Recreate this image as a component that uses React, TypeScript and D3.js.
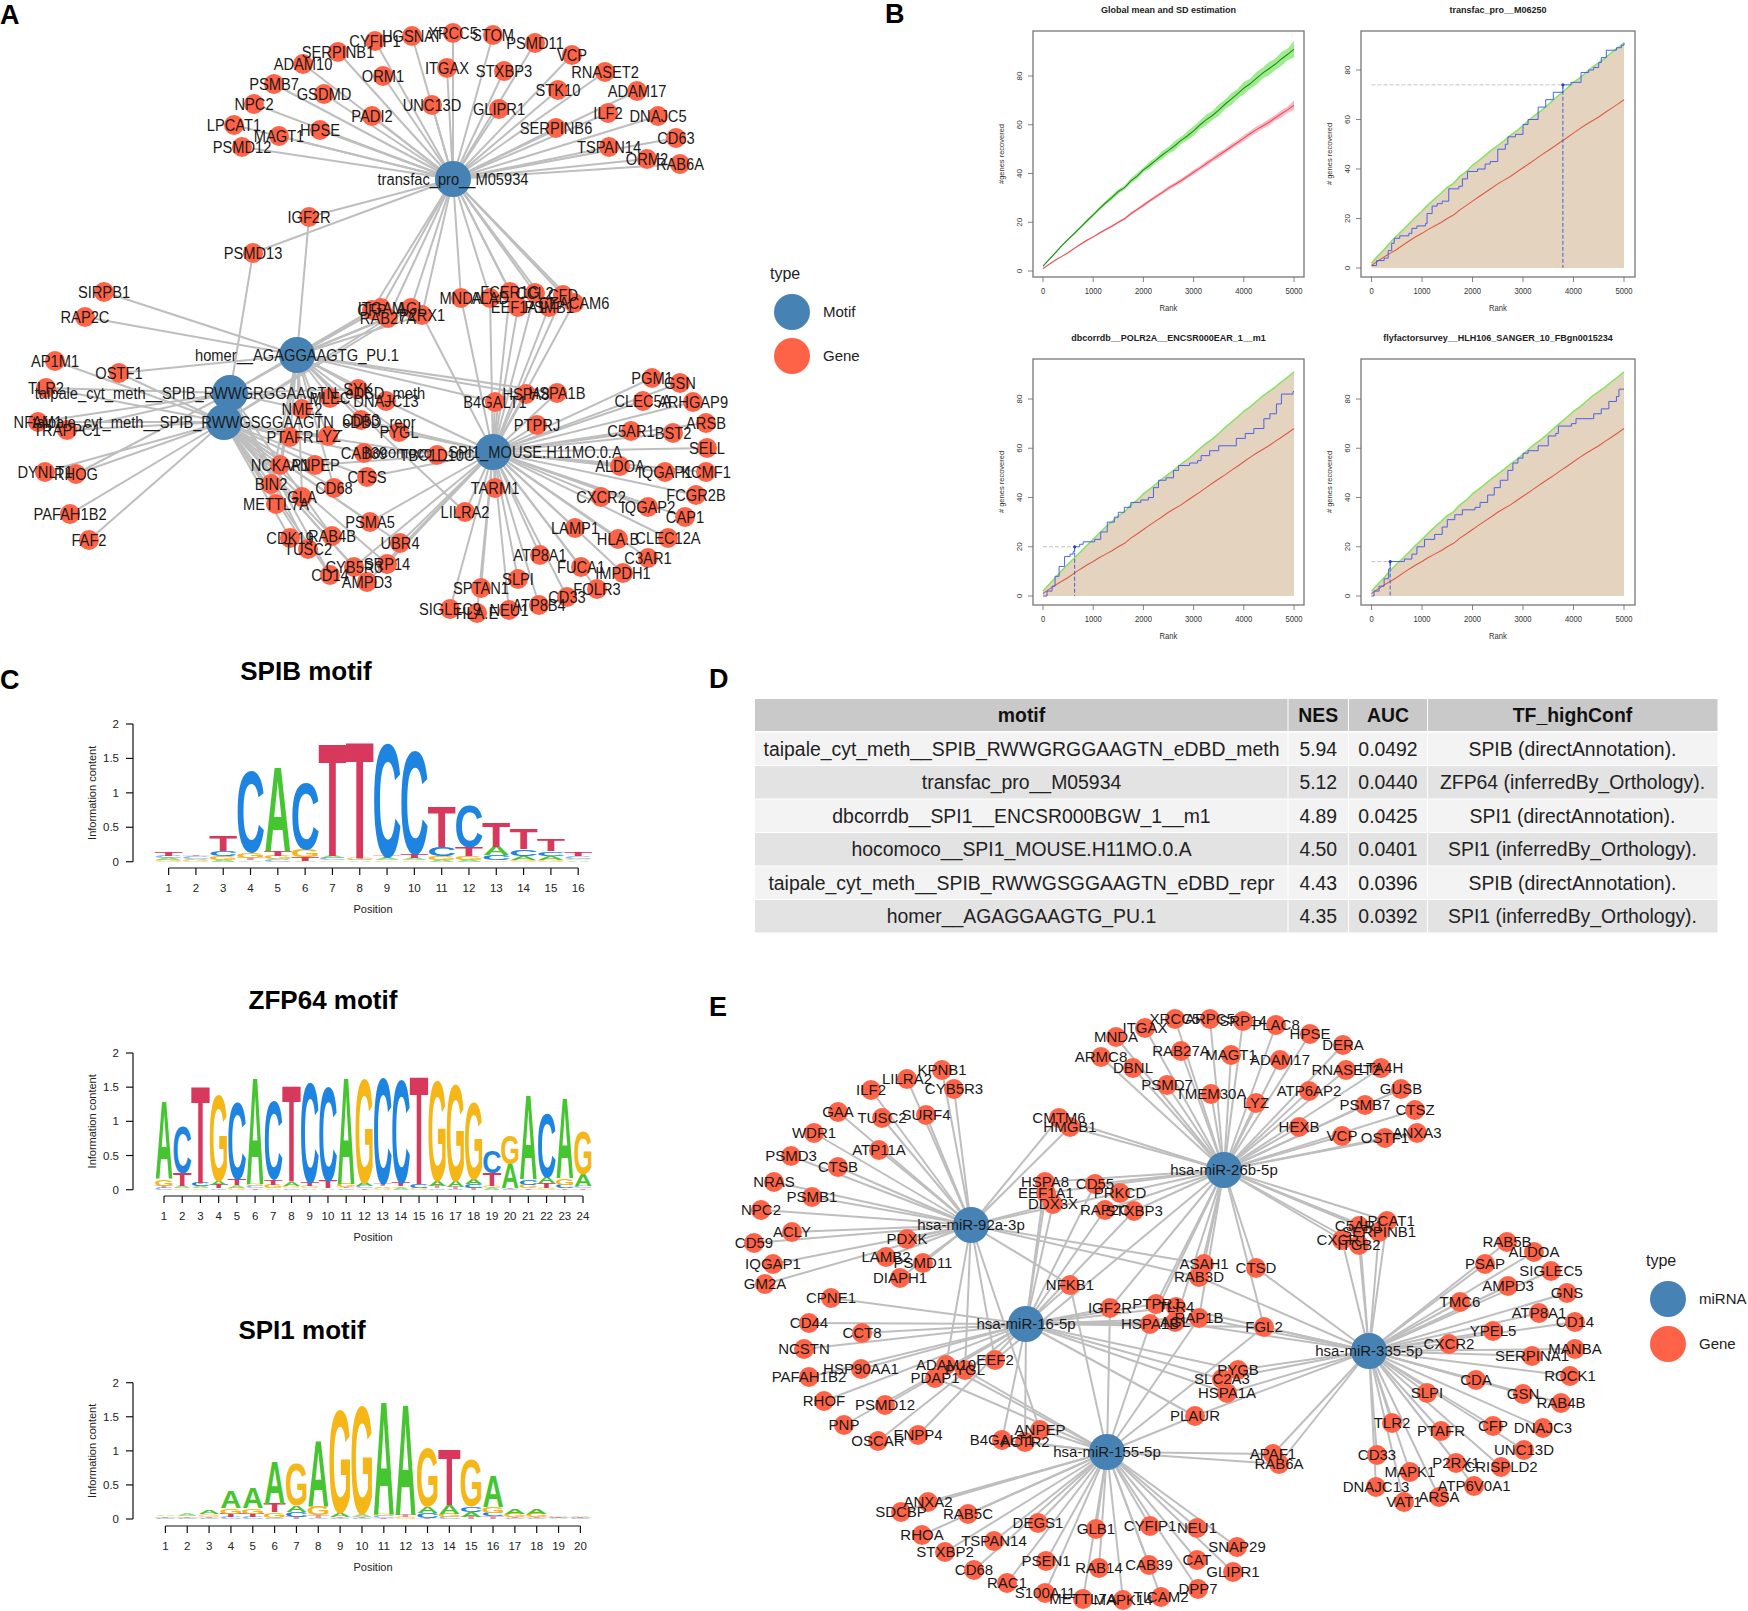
import React from 'react';
import * as d3 from 'd3';

// panel A network: [gene, x, y, hubs it links to]
const hubsA: [string, string, number, number][] = [
  ['t', 'transfac_pro__M05934', 453, 179],
  ['h', 'homer__AGAGGAAGTG_PU.1', 297, 355],
  ['m', 'taipale_cyt_meth__SPIB_RWWGRGGAAGTN_eDBD_meth', 230, 393],
  ['r', 'taipale_cyt_meth__SPIB_RWWGSGGAAGTN_eDBD_repr', 224, 422],
  ['o', 'hocomoco__SPI1_MOUSE.H11MO.0.A', 493, 452],
];
const genesATop: [string, number, number, string][] = [
  ['CYFIP1', 375, 41, 't'], ['HGSNAT', 412, 36, 't'], ['XRCC5', 453, 33, 't'], ['STOM', 493, 35, 't'],
  ['PSMD11', 535, 43, 't'], ['VCP', 572, 55, 't'], ['SERPINB1', 338, 52, 't'], ['ADAM10', 303, 64, 't'],
  ['ITGAX', 447, 68, 't'], ['STXBP3', 504, 71, 't'], ['ORM1', 383, 76, 't'], ['RNASET2', 605, 72, 't'],
  ['ADAM17', 637, 91, 't'], ['PSMB7', 274, 84, 't'], ['GSDMD', 324, 94, 't'], ['STK10', 558, 90, 't'],
  ['NPC2', 254, 104, 't'], ['UNC13D', 432, 105, 't'], ['GLIPR1', 499, 109, 't'], ['PADI2', 372, 116, 't'],
  ['ILF2', 608, 113, 't'], ['DNAJC5', 658, 116, 't'], ['LPCAT1', 234, 125, 't'], ['SERPINB6', 556, 128, 't'],
  ['HPSE', 320, 130, 't'], ['MAGT1', 279, 136, 't'], ['CD63', 676, 138, 't'], ['PSMD12', 242, 147, 't'],
  ['TSPAN14', 609, 147, 't'], ['ORM2', 647, 159, 't'], ['RAB6A', 680, 164, 't'], ['IGF2R', 309, 217, 'th'],
  ['PSMD13', 253, 253, 'tm'],
];
const genesAMiddle: [string, number, number, string][] = [
  ['SIRPB1', 104, 292, 'h'], ['RAP2C', 85, 317, 'h'], ['MNDA', 461, 298, 'to'], ['ALAD', 490, 298, 'to'],
  ['FCER1G', 510, 292, 'to'], ['CCL2', 535, 293, 'to'], ['CFD', 563, 295, 'to'], ['EEF1A1', 518, 307, 'to'],
  ['PSMB1', 549, 307, 'to'], ['CEACAM6', 574, 303, 'to'], ['CFP', 372, 310, 'thm'], ['ITGAM', 381, 308, 'thm'],
  ['AGL', 411, 308, 'thr'], ['RAB27A', 388, 318, 'thr'], ['P2RX1', 422, 315, 'tho'], ['AP1M1', 55, 361, 'r'],
  ['OSTF1', 119, 373, 'hr'], ['TLR2', 46, 388, 'mr'], ['NFAM1', 38, 422, 'mr'], ['TRAPPC1', 67, 430, 'mr'],
  ['DYNLT1', 45, 472, 'r'], ['RHOG', 76, 474, 'mr'], ['PAFAH1B2', 70, 514, 'r'], ['FAF2', 89, 540, 'r'],
  ['SYK', 358, 389, 'hm'], ['MLEC', 330, 398, 'hm'], ['DNAJC13', 386, 401, 'ho'], ['NME2', 302, 409, 'hm'],
  ['CD53', 361, 420, 'ho'], ['PYGL', 399, 432, 'ho'], ['PTAFR', 290, 437, 'hr'], ['LYZ', 328, 436, 'hr'],
  ['CAB39', 364, 453, 'ro'], ['TBC1D10C', 437, 455, 'ro'], ['NCKAP1', 280, 465, 'hr'], ['ANPEP', 315, 465, 'ro'],
  ['CTSS', 367, 477, 'ro'], ['BIN2', 271, 484, 'hr'], ['CD68', 334, 488, 'hr'], ['GLA', 302, 497, 'hr'],
  ['METTL7A', 276, 504, 'hr'], ['PSMA5', 370, 522, 'ro'], ['CDK19', 290, 538, 'r'], ['RAB4B', 332, 536, 'mr'],
  ['TUSC2', 308, 549, 'mr'], ['UBR4', 400, 543, 'ro'], ['CYB5R3', 354, 567, 'ro'], ['SRP14', 387, 564, 'ro'],
  ['CD14', 330, 575, 'mr'], ['AMPD3', 367, 582, 'ro'],
];
const genesARight: [string, number, number, string][] = [
  ['TARM1', 495, 488, 'o'], ['LILRA2', 465, 512, 'ho'], ['B4GALT1', 495, 402, 'ho'], ['HSPA8', 526, 394, 'ho'],
  ['HSPA1B', 557, 393, 'ho'], ['PTPRJ', 537, 425, 'o'], ['PGM1', 652, 378, 'o'], ['GSN', 680, 383, 'o'],
  ['CLEC5A', 643, 401, 'o'], ['ARHGAP9', 693, 402, 'o'], ['ARSB', 706, 423, 'o'], ['C5AR1', 631, 431, 'o'],
  ['BST2', 673, 433, 'o'], ['SELL', 707, 448, 'o'], ['ALDOA', 620, 466, 'o'], ['IQGAP1', 665, 472, 'o'],
  ['KCMF1', 706, 472, 'o'], ['FCGR2B', 696, 495, 'o'], ['CXCR2', 601, 497, 'o'], ['IQGAP2', 648, 507, 'o'],
  ['CAP1', 685, 517, 'o'], ['LAMP1', 575, 528, 'o'], ['HLA.B', 618, 539, 'o'], ['CLEC12A', 668, 538, 'o'],
  ['C3AR1', 648, 558, 'o'], ['ATP8A1', 540, 555, 'o'], ['FUCA1', 581, 567, 'o'], ['IMPDH1', 623, 573, 'o'],
  ['SLPI', 518, 579, 'o'], ['SPTAN1', 481, 588, 'o'], ['FOLR3', 597, 589, 'o'], ['CD33', 567, 597, 'o'],
  ['ATP8B4', 539, 605, 'o'], ['SIGLEC9', 450, 609, 'o'], ['HLA.E', 477, 613, 'o'], ['NEU1', 509, 610, 'o'],
];

// panel E network
const hubsE: [string, string, number, number][] = [
  ['2', 'hsa-miR-26b-5p', 1224, 1170],
  ['9', 'hsa-miR-92a-3p', 971, 1225],
  ['1', 'hsa-miR-16-5p', 1026, 1324],
  ['3', 'hsa-miR-335-5p', 1369, 1351],
  ['5', 'hsa-miR-155-5p', 1107, 1452],
];
const genesELeft: [string, number, number, string][] = [
  ['KPNB1', 942, 1070, '9'], ['LILRA2', 907, 1079, '9'], ['CYB5R3', 954, 1089, '9'], ['ILF2', 871, 1090, '9'],
  ['GAA', 838, 1112, '9'], ['TUSC2', 882, 1118, '9'], ['SURF4', 926, 1115, '9'], ['WDR1', 814, 1133, '9'],
  ['ATP11A', 879, 1150, '9'], ['PSMD3', 791, 1156, '9'], ['CTSB', 838, 1167, '9'], ['NRAS', 774, 1182, '9'],
  ['PSMB1', 812, 1197, '9'], ['NPC2', 761, 1210, '9'], ['ACLY', 792, 1232, '9'], ['CD59', 754, 1243, '9'],
  ['PDXK', 907, 1239, '9'], ['IQGAP1', 773, 1264, '9'], ['LAMB2', 886, 1257, '9'], ['PSMD11', 923, 1263, '9'],
  ['DIAPH1', 900, 1278, '9'], ['GM2A', 765, 1284, '9'], ['CPNE1', 831, 1298, '1'], ['CD44', 809, 1323, '1'],
  ['CCT8', 862, 1333, '1'], ['NCSTN', 804, 1349, '1'], ['HSP90AA1', 861, 1369, '1'], ['PAFAH1B2', 809, 1377, '1'],
  ['RHOF', 824, 1401, '1'], ['PSMD12', 885, 1405, '1'], ['PNP', 844, 1425, '1'], ['OSCAR', 878, 1441, '1'],
  ['ENPP4', 918, 1435, '1'],
];
const genesECenter: [string, number, number, string][] = [
  ['CMTM6', 1059, 1118, '92'], ['HMGB1', 1070, 1127, '92'], ['HSPA8', 1045, 1182, '21'], ['CD55', 1095, 1184, '21'],
  ['EEF1A1', 1046, 1193, '21'], ['PRKCD', 1120, 1193, '29'], ['DDX3X', 1053, 1204, '91'], ['RAP2C', 1105, 1210, '21'],
  ['STXBP3', 1134, 1211, '21'], ['ASAH1', 1204, 1264, '92'], ['RAB3D', 1199, 1277, '923'], ['CTSD', 1256, 1268, '23'],
  ['NFKB1', 1070, 1285, '195'], ['FGL2', 1264, 1327, '1235'], ['IGF2R', 1110, 1308, '125'], ['PTPRJ', 1156, 1304, '12'],
  ['TLR4', 1176, 1307, '13'], ['HSPA1B', 1150, 1324, '125'], ['AGL', 1175, 1322, '123'], ['RAP1B', 1199, 1318, '1235'],
  ['EEF2', 995, 1360, '92'], ['ADAM10', 946, 1365, '95'], ['PYGL', 965, 1370, '95'], ['PDAP1', 935, 1378, '15'],
  ['B4GALT1', 1002, 1440, '15'], ['ACTR2', 1025, 1442, '15'], ['ANPEP', 1040, 1430, '95'], ['PLAUR', 1195, 1416, '135'],
  ['PYGB', 1238, 1370, '13'], ['SLC2A3', 1222, 1379, '13'], ['HSPA1A', 1227, 1393, '13'], ['APAF1', 1273, 1454, '35'],
  ['RAB6A', 1279, 1464, '35'],
];
const genesETop: [string, number, number, string][] = [
  ['MNDA', 1116, 1037, '2'], ['ITGAX', 1145, 1028, '2'], ['XRCC5', 1175, 1019, '2'], ['ARPC5', 1210, 1019, '2'],
  ['SRP14', 1243, 1021, '2'], ['ARMC8', 1101, 1057, '2'], ['DBNL', 1133, 1068, '2'], ['RAB27A', 1181, 1051, '2'],
  ['MAGT1', 1231, 1055, '2'], ['PSMD7', 1167, 1085, '2'], ['TMEM30A', 1211, 1094, '2'], ['PLAC8', 1276, 1025, '2'],
  ['HPSE', 1310, 1034, '2'], ['DERA', 1343, 1045, '2'], ['ADAM17', 1280, 1060, '2'], ['RNASET2', 1346, 1070, '2'],
  ['LTA4H', 1381, 1068, '2'], ['ATP6AP2', 1309, 1091, '2'], ['GUSB', 1401, 1089, '2'], ['LYZ', 1256, 1103, '2'],
  ['PSMB7', 1365, 1105, '2'], ['CTSZ', 1415, 1110, '2'], ['HEXB', 1299, 1127, '2'], ['VCP', 1342, 1136, '2'],
  ['OSTF1', 1385, 1138, '2'], ['ANXA3', 1417, 1133, '2'], ['LPCAT1', 1387, 1221, '23'], ['C5AR1', 1359, 1226, '23'],
  ['SERPINB1', 1379, 1232, '23'], ['CXCR1', 1342, 1240, '23'], ['ITGB2', 1359, 1245, '23'],
];
const genesERight: [string, number, number, string][] = [
  ['RAB5B', 1507, 1242, '3'], ['ALDOA', 1534, 1252, '3'], ['PSAP', 1485, 1264, '3'], ['SIGLEC5', 1551, 1271, '3'],
  ['AMPD3', 1508, 1286, '3'], ['GNS', 1567, 1293, '3'], ['TMC6', 1460, 1302, '3'], ['ATP8A1', 1539, 1313, '3'],
  ['CD14', 1575, 1322, '3'], ['YPEL5', 1493, 1331, '3'], ['CXCR2', 1449, 1344, '3'], ['MANBA', 1575, 1349, '3'],
  ['SERPINA1', 1532, 1356, '3'], ['ROCK1', 1570, 1376, '3'], ['CDA', 1476, 1380, '3'], ['GSN', 1523, 1394, '3'],
  ['RAB4B', 1561, 1403, '3'], ['SLPI', 1427, 1393, '3'], ['TLR2', 1392, 1423, '3'], ['PTAFR', 1441, 1431, '3'],
  ['CFP', 1493, 1426, '3'], ['DNAJC3', 1543, 1428, '3'], ['UNC13D', 1524, 1450, '3'], ['CD33', 1377, 1455, '3'],
  ['P2RX1', 1456, 1463, '3'], ['CRISPLD2', 1501, 1467, '3'], ['MAPK1', 1410, 1472, '3'], ['ATP6V0A1', 1474, 1486, '3'],
  ['DNAJC13', 1376, 1487, '3'], ['ARSA', 1439, 1497, '3'], ['VAT1', 1404, 1502, '3'],
];
const genesEBottom: [string, number, number, string][] = [
  ['ANXA2', 928, 1502, '5'], ['SDCBP', 901, 1512, '5'], ['RAB5C', 968, 1514, '5'], ['RHOA', 922, 1535, '5'],
  ['DEGS1', 1038, 1523, '5'], ['GLB1', 1096, 1529, '5'], ['CYFIP1', 1150, 1526, '5'], ['NEU1', 1197, 1528, '5'],
  ['TSPAN14', 994, 1541, '5'], ['STXBP2', 945, 1552, '5'], ['SNAP29', 1237, 1547, '5'], ['PSEN1', 1046, 1561, '5'],
  ['CAT', 1197, 1560, '5'], ['RAB14', 1099, 1568, '5'], ['CAB39', 1149, 1565, '5'], ['GLIPR1', 1233, 1572, '5'],
  ['CD68', 974, 1570, '5'], ['RAC1', 1007, 1583, '5'], ['DPP7', 1198, 1589, '5'], ['S100A11', 1045, 1593, '5'],
  ['METTL7A', 1083, 1599, '5'], ['MAPK14', 1123, 1600, '5'], ['TICAM2', 1161, 1597, '5'],
];

// panel B recovery curves, one value every 125 ranks
const ranks = d3.range(0, 5001, 125);
const greenMean = [2, 4.8, 7.5, 10.4, 13, 15.4, 18, 20.6, 23, 25.6, 28, 30.2, 32.6, 34.2, 37, 38.9, 41.5, 43.4, 45.5, 47.6, 49.5, 51.4, 53.6, 55.4, 57.5, 59.9, 62, 63.8, 66, 68.4, 70.5, 72.7, 75, 76.8, 79, 81.2, 83, 84.8, 87, 88.9, 91];
const greenSd = [0, .2, .3, .3, .4, .5, .5, .7, .6, .8, .7, 1, .9, .8, 1.1, 1.3, 1, 1.5, 1.2, 1.6, 1.4, 1.9, 1.5, 1.8, 2, 1.7, 2.2, 1.8, 2.3, 1.9, 2.4, 2, 2.5, 2.1, 2.6, 2.2, 2.7, 2.3, 2.8, 2.4, 3.4];
const redMean = [1, 2.8, 4.5, 6, 7.5, 9.3, 11, 12.6, 14, 15.6, 17, 18.4, 20, 21.4, 23.5, 25.2, 27, 28.8, 30.5, 32.2, 34, 35.5, 37, 38.8, 40.5, 42.2, 44, 45.8, 47.5, 49.2, 51, 52.7, 54.5, 56.3, 58, 59.5, 61, 62.8, 64.5, 66.2, 68];
const redSd = [0, .1, .2, .2, .2, .3, .3, .4, .3, .4, .4, .5, .4, .5, .6, .5, .7, .6, .8, .6, .9, .7, 1, .8, 1, .9, 1.1, .9, 1.2, 1, 1.2, 1, 1.3, 1.1, 1.3, 1.1, 1.4, 1.2, 1.5, 1.3, 2];
const stepsM06250: [number, number][] = [[0, 1], [100, 3], [250, 4], [330, 7], [400, 10], [450, 12], [560, 13], [740, 14], [800, 16], [900, 17], [1070, 18], [1100, 22], [1200, 25], [1300, 26], [1400, 27], [1530, 32], [1730, 33], [1800, 36], [1900, 39], [2100, 40], [2250, 42], [2350, 43], [2500, 48], [2650, 50], [2700, 53], [2850, 54], [3000, 58], [3100, 60], [3300, 65], [3450, 68], [3600, 71], [3790, 74], [3950, 75], [4150, 79], [4300, 80], [4400, 81], [4500, 83], [4550, 85], [4650, 88], [4850, 89], [4950, 90], [5000, 91]];
const stepsPolr2a: [number, number][] = [[0, 0], [80, 2], [180, 4], [240, 8], [320, 12], [430, 16], [540, 17], [600, 18], [630, 20], [730, 21], [800, 22], [1030, 23], [1150, 26], [1280, 30], [1420, 32], [1500, 34], [1620, 36], [1750, 38], [1950, 39], [2100, 40], [2200, 44], [2300, 47], [2450, 48], [2600, 51], [2700, 53], [2920, 54], [3080, 55], [3150, 57], [3320, 59], [3500, 61], [3850, 64], [4030, 66], [4200, 68], [4400, 72], [4520, 74], [4650, 78], [4750, 82], [4980, 83], [5000, 83]];
const stepsHlh106: [number, number][] = [[0, 0], [50, 2], [150, 4], [250, 7], [340, 11], [370, 14], [650, 15], [800, 17], [900, 20], [1050, 23], [1250, 25], [1400, 28], [1500, 31], [1650, 33], [1800, 35], [2050, 36], [2150, 38], [2300, 41], [2430, 44], [2550, 47], [2700, 51], [2800, 54], [2900, 56], [3000, 58], [3100, 59], [3300, 61], [3500, 65], [3650, 66], [3700, 69], [3960, 70], [4050, 72], [4400, 74], [4550, 76], [4700, 79], [4850, 81], [4900, 84], [5000, 84]];

// panel C logos: bottom to top stack per position
type Stack = [string, number][];
const spibStacks: Stack[] = [
  [['G', .03], ['A', .03], ['C', .03], ['T', .06]], [['G', .03], ['A', .01], ['C', .04], ['T', .02]],
  [['A', .03], ['G', .05], ['C', .08], ['T', .22]], [['A', .02], ['T', .04], ['G', .08], ['C', 1.15]],
  [['C', .04], ['G', .05], ['T', .07], ['A', 1.2]], [['A', .01], ['T', .06], ['G', .11], ['C', .95]],
  [['G', .02], ['C', .03], ['A', .03], ['T', 1.62]], [['A', .02], ['C', .01], ['G', .03], ['T', 1.68]],
  [['G', .02], ['A', .03], ['T', .03], ['C', 1.62]], [['G', .02], ['A', .03], ['T', .06], ['C', 1.47]],
  [['A', .03], ['G', .05], ['C', .13], ['T', .57]], [['A', .03], ['G', .06], ['T', .12], ['C', .59]],
  [['G', .02], ['C', .08], ['A', .12], ['T', .36]], [['G', .03], ['A', .06], ['C', .09], ['T', .29]],
  [['G', .03], ['A', .06], ['C', .06], ['T', .16]], [['A', .02], ['G', .02], ['C', .04], ['T', .06]],
];
const zfp64Stacks: Stack[] = [
  [['C', .03], ['T', .03], ['G', .1], ['A', 1.12]], [['G', .02], ['A', .03], ['T', .19], ['C', .68]],
  [['G', .02], ['A', .03], ['C', .05], ['T', 1.4]], [['C', .02], ['T', .05], ['A', .06], ['G', 1.24]],
  [['G', .03], ['A', .04], ['T', .09], ['C', 1.11]], [['T', .02], ['C', .04], ['G', .03], ['A', 1.53]],
  [['A', .02], ['G', .05], ['T', .08], ['C', 1.12]], [['C', .02], ['G', .04], ['A', .06], ['T', 1.38]],
  [['A', .02], ['G', .03], ['T', .05], ['C', 1.44]], [['A', .02], ['T', .11], ['C', 1.34]],
  [['C', .02], ['T', .02], ['G', .05], ['A', 1.53]], [['T', .02], ['C', .03], ['A', .05], ['G', 1.5]],
  [['G', .03], ['A', .02], ['T', .04], ['C', 1.51]], [['A', .03], ['G', .02], ['T', .05], ['C', 1.48]],
  [['G', .03], ['C', .05], ['T', 1.55]], [['C', .02], ['T', .03], ['A', .07], ['G', 1.44]],
  [['C', .01], ['T', .03], ['A', .09], ['G', 1.38]], [['T', .03], ['C', .05], ['A', .08], ['G', 1.1]],
  [['A', .03], ['G', .03], ['T', .18], ['C', .32]], [['C', .01], ['T', .02], ['A', .35], ['G', .41]],
  [['T', .02], ['G', .05], ['C', .08], ['A', 1.22]], [['G', .03], ['T', .07], ['A', .09], ['C', .91]],
  [['T', .02], ['C', .05], ['G', .1], ['A', 1.17]], [['T', .02], ['C', .04], ['A', .17], ['G', .62]],
];
const spi1Stacks: Stack[] = [
  [['C', .01], ['T', .01], ['G', .02], ['A', .02]], [['C', .01], ['T', .01], ['G', .02], ['A', .03]],
  [['C', .01], ['T', .02], ['G', .04], ['A', .05]], [['C', .03], ['T', .05], ['G', .08], ['A', .25]],
  [['C', .03], ['T', .05], ['G', .08], ['A', .3]], [['C', .02], ['G', .08], ['T', .12], ['A', .62]],
  [['T', .03], ['C', .07], ['A', .1], ['G', .6]], [['C', .02], ['T', .04], ['G', .12], ['A', .95]],
  [['C', .01], ['T', .02], ['A', .06], ['G', 1.48]], [['C', .01], ['T', .02], ['A', .04], ['G', 1.56]],
  [['T', .01], ['C', .03], ['G', .03], ['A', 1.63]], [['G', .03], ['T', .03], ['A', 1.6]],
  [['T', .01], ['C', .08], ['A', .1], ['G', .84]], [['C', .03], ['G', .05], ['A', .12], ['T', .8]],
  [['T', .03], ['A', .08], ['C', .08], ['G', .68]], [['T', .04], ['C', .05], ['G', .09], ['A', .44]],
  [['C', .01], ['T', .02], ['G', .05], ['A', .08]], [['C', .01], ['T', .02], ['G', .05], ['A', .08]],
  [['A', .01], ['C', .01], ['T', .01], ['G', .01]], [['C', .01], ['G', .01], ['T', .01], ['A', .02]],
];
const infoTicks = [0, 0.5, 1, 1.5, 2];
const baseColor: Record<string, string> = { A: '#45c52f', C: '#1e84e2', G: '#f5b618', T: '#d8385c' };
const baseInk: Record<string, number> = { A: 72, C: 66, G: 70, T: 57 };

// panel D table
const tableHeader = ['motif', 'NES', 'AUC', 'TF_highConf'];
const motifNames = ['taipale_cyt_meth__SPIB_RWWGRGGAAGTN_eDBD_meth', 'transfac_pro__M05934', 'dbcorrdb__SPI1__ENCSR000BGW_1__m1', 'hocomoco__SPI1_MOUSE.H11MO.0.A', 'taipale_cyt_meth__SPIB_RWWGSGGAAGTN_eDBD_repr', 'homer__AGAGGAAGTG_PU.1'];
const nesValues = ['5.94', '5.12', '4.89', '4.50', '4.43', '4.35'];
const aucValues = ['0.0492', '0.0440', '0.0425', '0.0401', '0.0396', '0.0392'];
const tfNames = ['SPIB (directAnnotation).', 'ZFP64 (inferredBy_Orthology).', 'SPI1 (directAnnotation).', 'SPI1 (inferredBy_Orthology).', 'SPIB (directAnnotation).', 'SPI1 (inferredBy_Orthology).'];

const FONT = '"Liberation Sans", Arial, sans-serif';
const layout = d3.scaleIdentity();

function Network({ hubs, genes, fontSize, squeeze }: { hubs: [string, string, number, number][]; genes: [string, number, number, string][]; fontSize: number; squeeze: number }) {
  const hubMap = new Map(hubs.map((h) => [h[0], h]));
  const label = (name: string, x: number, y: number, size: number) => (
    <text key={name + x} transform={`translate(${layout(x)},${layout(y)}) scale(${squeeze},1)`} dy="0.36em" textAnchor="middle" fontSize={size} fill="#1a1a1a">{name}</text>
  );
  return (
    <g fontFamily={FONT}>
      {genes.flatMap((g) => g[3].split('').map((code) => {
        const hub = hubMap.get(code)!;
        return <line key={g[0] + g[1] + code} x1={layout(g[1])} y1={layout(g[2])} x2={layout(hub[2])} y2={layout(hub[3])} stroke="#bebebe" strokeWidth={2} />;
      }))}
      {genes.map((g) => <circle key={g[0] + g[1]} cx={layout(g[1])} cy={layout(g[2])} r={10} fill="#ff6347" />)}
      {hubs.map((h) => <circle key={h[0]} cx={layout(h[2])} cy={layout(h[3])} r={18} fill="#4682b4" />)}
      {genes.map((g) => label(g[0], g[1], g[2], fontSize))}
      {hubs.map((h) => label(h[1], h[2], h[3], fontSize))}
    </g>
  );
}

function Legend({ x, y, gap, labels }: { x: number; y: number; gap: number; labels: string[] }) {
  return (
    <g fontFamily={FONT} fontSize={15} fill="#222">
      <text x={x - 22} y={y - 33} fontSize={16}>type</text>
      <circle cx={x} cy={y} r={18} fill="#4682b4" />
      <text x={x + 31} y={y + 5}>{labels[0]}</text>
      <circle cx={x} cy={y + gap} r={18} fill="#ff6347" />
      <text x={x + 31} y={y + gap + 5}>{labels[1]}</text>
    </g>
  );
}

function RecoveryPlot({ title, box, xPix, yPix, steps, peak, global }: { title: string; box: number[]; xPix: number[]; yPix: number[]; steps?: [number, number][]; peak?: [number, number]; global?: boolean }) {
  const x = d3.scaleLinear().domain([0, 5000]).range(xPix);
  const y = d3.scaleLinear().domain([0, 80]).range(yPix);
  const [bx0, by0, bx1, by1] = box;
  const cx = (bx0 + bx1) / 2;
  const meanLine = d3.line<number>().x((_, i) => x(ranks[i])).y((d) => y(d));
  const band = (mean: number[], sd: number[]) => d3.area<number>().x((_, i) => x(ranks[i])).y0((d, i) => y(d - sd[i])).y1((d, i) => y(d + sd[i]))(mean) || '';
  const under = d3.area<number>().x((_, i) => x(ranks[i])).y0(y(0)).y1((d) => y(d))(greenMean) || '';
  const stepLine = d3.line<[number, number]>().x((d) => x(d[0])).y((d) => y(d[1])).curve(d3.curveStepAfter);
  return (
    <g fontFamily={FONT} fill="#333">
      <text x={cx} y={by0 - 18} textAnchor="middle" fontSize={9} fontWeight="bold" fill="#222">{title}</text>
      {!global && <path d={under} fill="#e4d3be" />}
      {global ? (
        <g>
          <path d={band(greenMean, greenSd)} fill="#9eec8e" />
          <path d={band(redMean, redSd)} fill="#f9b9c4" />
          <path d={meanLine(greenMean) || ''} fill="none" stroke="#1f8a1f" strokeWidth={1.1} />
          <path d={meanLine(redMean) || ''} fill="none" stroke="#e8505b" strokeWidth={1.1} />
        </g>
      ) : (
        <g>
          <path d={meanLine(greenMean) || ''} fill="none" stroke="#86e35f" strokeWidth={1.5} />
          <path d={meanLine(redMean) || ''} fill="none" stroke="#e05a45" strokeWidth={1.1} />
          <path d={stepLine(steps!) || ''} fill="none" stroke="#4a63e6" strokeWidth={1} />
          <line x1={x(peak![0])} x2={x(peak![0])} y1={y(peak![1])} y2={y(0)} stroke="#3a55e0" strokeWidth={0.9} strokeDasharray="4 2" />
          <line x1={x(0)} x2={x(peak![0])} y1={y(peak![1])} y2={y(peak![1])} stroke="#bbb" strokeWidth={0.9} strokeDasharray="4 2" />
          <circle cx={x(peak![0])} cy={y(peak![1])} r={1.6} fill="#1f3de0" />
        </g>
      )}
      <rect x={bx0} y={by0} width={bx1 - bx0} height={by1 - by0} fill="none" stroke="#777" strokeWidth={1.3} />
      {x.ticks(5).map((t) => (
        <g key={t}>
          <line x1={x(t)} x2={x(t)} y1={by1} y2={by1 + 5} stroke="#666" strokeWidth={0.8} />
          <text transform={`translate(${x(t)},${by1 + 17}) scale(0.85,1)`} textAnchor="middle" fontSize={9}>{t}</text>
        </g>
      ))}
      {y.ticks(5).map((t) => (
        <g key={t}>
          <line x1={bx0} x2={bx0 - 5} y1={y(t)} y2={y(t)} stroke="#666" strokeWidth={0.8} />
          <text transform={`translate(${bx0 - 11},${y(t)}) rotate(-90)`} textAnchor="middle" fontSize={8}>{t}</text>
        </g>
      ))}
      <text transform={`translate(${cx},${by1 + 34}) scale(0.85,1)`} textAnchor="middle" fontSize={9}>Rank</text>
      <text transform={`translate(${bx0 - 29},${(by0 + by1) / 2}) rotate(-90)`} textAnchor="middle" fontSize={7.5}>{global ? '#genes recovered' : '# genes recovered'}</text>
    </g>
  );
}

function Logo({ title, titleX, titleY, stacks, xPix, y2, y0, axisY }: { title: string; titleX: number; titleY: number; stacks: Stack[]; xPix: number[]; y2: number; y0: number; axisY: number }) {
  const positions = stacks.map((_, i) => i + 1);
  const x = d3.scaleLinear().domain([1, stacks.length]).range(xPix);
  const y = d3.scaleLinear().domain([0, 2]).range([y0, y2]);
  const step = x(2) - x(1);
  return (
    <g fontFamily={FONT}>
      <text x={titleX} y={titleY} textAnchor="middle" fontSize={26} fontWeight="bold" fill="#000">{title}</text>
      {stacks.map((stack, i) => {
        let acc = 0;
        return stack.map(([base, h], j) => {
          const bottom = y(acc);
          acc += h;
          const sy = (bottom - y(acc)) / 69;
          const sx = (step * 0.97) / baseInk[base];
          return <text key={j} transform={`translate(${x(i + 1)},${bottom}) scale(${sx},${sy})`} textAnchor="middle" fontSize={100} fontWeight="bold" fill={baseColor[base]} opacity={h < 0.05 ? 0.55 : 1}>{base}</text>;
        });
      })}
      <line x1={133} x2={133} y1={y(2)} y2={y(0)} stroke="#111" strokeWidth={1.2} />
      {infoTicks.map((t) => (
        <g key={t}>
          <line x1={126} x2={133} y1={y(t)} y2={y(t)} stroke="#111" strokeWidth={1.2} />
          <text x={119} y={y(t) + 4} textAnchor="end" fontSize={11.5} fill="#222">{t}</text>
        </g>
      ))}
      <text transform={`translate(96,${(y(0) + y(2)) / 2}) rotate(-90)`} textAnchor="middle" fontSize={11} fill="#222">Information content</text>
      <line x1={xPix[0]} x2={xPix[1]} y1={axisY} y2={axisY} stroke="#111" strokeWidth={1.2} />
      {positions.map((p) => (
        <g key={p}>
          <line x1={x(p)} x2={x(p)} y1={axisY} y2={axisY + 7} stroke="#111" strokeWidth={1.2} />
          <text x={x(p)} y={axisY + 24} textAnchor="middle" fontSize={11.5} fill="#222">{p}</text>
        </g>
      ))}
      <text x={373} y={axisY + 45} textAnchor="middle" fontSize={11} fill="#222">Position</text>
    </g>
  );
}

function MotifTable() {
  const cols = [755, 1288, 1348.5, 1427.5, 1717.5];
  const rowY = d3.scaleBand<number>().domain(d3.range(6)).range([732.5, 933.5]);
  const columns = [motifNames, nesValues, aucValues, tfNames];
  return (
    <g fontFamily={FONT} fontSize={19.4} fill="#222">
      <rect x={cols[0]} y={699} width={cols[4] - cols[0]} height={32} fill="#c9c9c9" />
      {d3.range(6).map((r) => <rect key={r} x={cols[0]} y={rowY(r)!} width={cols[4] - cols[0]} height={rowY.bandwidth() - 1} fill={r % 2 === 0 ? '#f3f3f3' : '#e3e3e3'} />)}
      {cols.slice(1, 4).map((c) => <line key={c} x1={c} x2={c} y1={699} y2={933} stroke="#fff" strokeWidth={1} />)}
      {tableHeader.map((h, c) => <text key={h} x={(cols[c] + cols[c + 1]) / 2} y={722} textAnchor="middle" fontWeight="bold" fill="#111">{h}</text>)}
      {columns.map((col, c) => col.map((v, r) => (
        <text key={c + '-' + r} x={(cols[c] + cols[c + 1]) / 2} y={rowY(r)! + rowY.bandwidth() / 2 + 6.5} textAnchor="middle">{v}</text>
      )))}
    </g>
  );
}

export default function App() {
  return (
    <svg width={1748} height={1611} viewBox="0 0 1748 1611" style={{ position: 'absolute', left: 0, top: 0, background: '#fff' }}>
      <g fontFamily={FONT} fontSize={27} fontWeight="bold" fill="#000">
        <text x={0} y={24}>A</text>
        <text x={885} y={23}>B</text>
        <text x={0} y={689}>C</text>
        <text x={709} y={688}>D</text>
        <text x={709} y={1016}>E</text>
      </g>

      <Network hubs={hubsA} genes={[...genesATop, ...genesAMiddle, ...genesARight]} fontSize={16.5} squeeze={0.89} />
      <Legend x={792} y={312} gap={44} labels={['Motif', 'Gene']} />

      <RecoveryPlot global title="Global mean and SD estimation" box={[1033, 31, 1304, 277]} xPix={[1043, 1294]} yPix={[271, 76]} />
      <RecoveryPlot title="transfac_pro__M06250" box={[1361, 31, 1635, 277]} xPix={[1371.5, 1624]} yPix={[268, 70]} steps={stepsM06250} peak={[3790, 74]} />
      <RecoveryPlot title="dbcorrdb__POLR2A__ENCSR000EAR_1__m1" box={[1033, 359, 1304, 605]} xPix={[1043, 1294]} yPix={[596, 399]} steps={stepsPolr2a} peak={[630, 20]} />
      <RecoveryPlot title="flyfactorsurvey__HLH106_SANGER_10_FBgn0015234" box={[1361, 359, 1635, 605]} xPix={[1371.5, 1624]} yPix={[596, 399]} steps={stepsHlh106} peak={[370, 14]} />

      <Logo title="SPIB motif" titleX={306} titleY={680} stacks={spibStacks} xPix={[168.6, 578.2]} y2={724} y0={861.7} axisY={868} />
      <Logo title="ZFP64 motif" titleX={323} titleY={1009} stacks={zfp64Stacks} xPix={[164, 583]} y2={1053} y0={1189.7} axisY={1196} />
      <Logo title="SPI1 motif" titleX={302} titleY={1339} stacks={spi1Stacks} xPix={[165.4, 580.4]} y2={1382.7} y0={1519} axisY={1526} />

      <MotifTable />

      <Network hubs={hubsE} genes={[...genesELeft, ...genesECenter, ...genesETop, ...genesERight, ...genesEBottom]} fontSize={15} squeeze={1} />
      <Legend x={1668} y={1299} gap={45} labels={['miRNA', 'Gene']} />
    </svg>
  );
}
